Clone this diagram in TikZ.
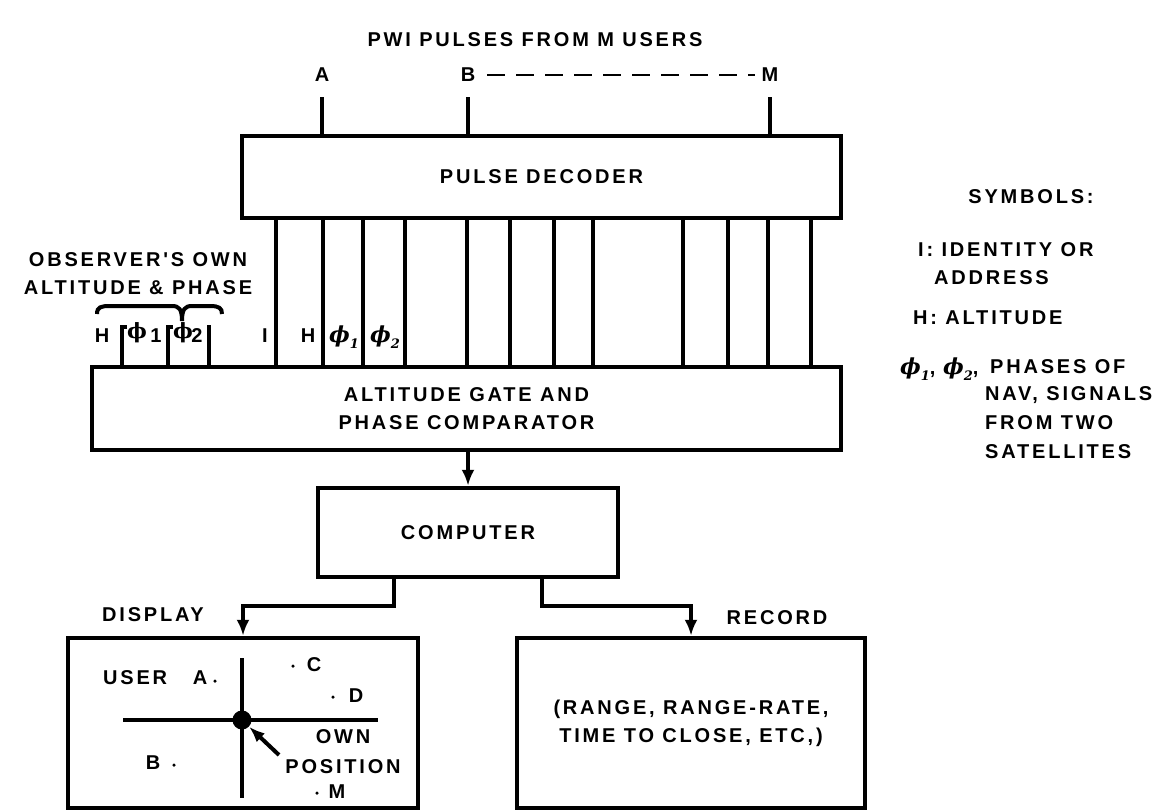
\documentclass[tikz,border=0pt]{standalone}
\usepackage{fontspec}
\usetikzlibrary{arrows.meta}
\newfontfamily\lblfont{Liberation Sans}[LetterSpace=14]
\newfontfamily\phifont{DejaVu Serif}
\newcommand\phisub[1]{{\phifont\bfseries\itshape\fontsize{22}{24}\selectfont ϕ}\raisebox{-6pt}{\phifont\bfseries\itshape\fontsize{13}{14}\selectfont #1}}
\newcommand\phibig{{\phifont\bfseries\fontsize{21}{24}\selectfont ϕ}}
\newcommand\lblcomma{{\lblfont\bfseries\fontsize{20}{24}\selectfont ,}}
\tikzset{
  txt/.style={font=\lblfont\bfseries\fontsize{20}{28}\selectfont, inner sep=0pt, align=center},
  box/.style={draw, line width=4.5pt, rectangle, inner sep=0pt, align=center,
              font=\lblfont\bfseries\fontsize{20}{28}\selectfont},
  conn/.style={line width=3.5pt},
  arr/.style={line width=3.5pt, -{Latex[length=16pt,width=13pt]}},
  phi/.style={inner sep=0pt},
  dashline/.style={line width=2.2pt, dash pattern=on 18pt off 11pt, shorten <=12pt, shorten >=6pt},
  heavy/.style={line width=4pt},
  spot/.style={fill, circle, inner sep=0pt, minimum size=3.5pt}
}
\begin{document}
\begin{tikzpicture}[x=1pt,y=-1pt]
\useasboundingbox (0,0) rectangle (1175,811);

% title and inputs
\node[txt] (title) at (535,40) {PWI PULSES FROM M USERS};
\node[txt] (lA) at (322,75) {A};
\node[txt] (lB) at (468,75) {B};
\node[txt] (lM) at (770,75) {M};
\draw[dashline] (lB) -- (lM);

\node[box, minimum width=599pt, minimum height=82pt] (pd) at (541.5,177) {PULSE DECODER};
\foreach \n in {lA,lB,lM} \draw[conn] ([yshift=-15pt]\n.south) -- (\n |- pd.north);

% altitude gate
\node[box, minimum width=749pt, minimum height=83pt] (ag) at (466.5,408.5) {ALTITUDE GATE AND\\PHASE COMPARATOR};

\foreach \x [count=\i] in {276,323,363,405,467,510,554,593,683,728,768,811} {
  \coordinate (v\i) at (\x,0);
  \draw[conn] (v\i |- pd.south) -- (v\i |- ag.north);
}

% labels between the boxes
\node[txt] (iI) at (265,336) {I};
\node[txt] (iH) at (308,336) {H};
\node[phi] (iP1) at (344,337) {\phisub{1}};
\node[phi] (iP2) at (385,337) {\phisub{2}};

% observer's own
\node[txt] (obs) at (138,274) {OBSERVER'S OWN\\ALTITUDE \& PHASE};
\node[txt] (oH) at (102,336) {H};
\node[phi] (oP1) at (137,333) {\phibig};
\node[txt] (o1) at (156,336) {1};
\node[phi] (oP2) at (183,333) {\phibig};
\node[txt] (o2) at (197,336) {2};
\coordinate (k1) at (122,327);
\coordinate (k2) at (168,327);
\coordinate (k3) at (209,325);
\draw[conn] (k1 |- ag.north) -- (k1) -- (oP1.west |- k1);
\draw[conn] (k2 |- ag.north) -- (k2) -- (oP2.west |- k2);
\draw[conn] (k3 |- ag.north) -- (k3);
\draw[heavy] (97,314) .. controls (97,307) and (101,306) .. (110,306) -- (172,306)
   .. controls (179,306) and (182,309) .. (182,321);
\draw[heavy] (182,321) .. controls (182,309) and (185,306) .. (192,306) -- (210,306)
   .. controls (219,306) and (222,308) .. (222,314);

% computer
\node[box, minimum width=300pt, minimum height=89pt] (comp) at (468,532.5) {COMPUTER};
\draw[arr] (ag.south -| comp.north) -- (comp.north);

% display and record
\node[box, minimum width=350pt, minimum height=170pt] (disp) at (243,723) {};
\node[box, minimum width=348pt, minimum height=170pt] (rec) at (691,723) {(RANGE, RANGE-RATE,\\TIME TO CLOSE, ETC,)};
\coordinate (bl) at (394,606);
\coordinate (br) at (542,606);
\draw[arr] (bl |- comp.south) -- (bl) -| (disp.north);
\draw[arr] (br |- comp.south) -- (br) -| (rec.north);
\node[txt] (dl) at (153,615) {DISPLAY};
\node[txt] (rl) at (777,618) {RECORD};

% display contents
\draw[heavy] (242,658) -- (242,798);
\draw[heavy] (123,720) -- (378,720);
\node[circle, fill, inner sep=0pt, minimum size=19pt] (ctr) at (242,720) {};
\coordinate (ptr) at (279,755);
\draw[heavy, -{Latex[length=16pt,width=12pt]}] (ptr) -- (ctr);
\node[txt, anchor=west] (uu) at (103,678) {USER};
\node[txt] (ua) at (200,678) {A};
\node[spot] (da) at (215,681) {};
\node[spot] (dc) at (293,666) {};
\node[txt] (uc) at (314,665) {C};
\node[spot] (dd) at (333,697) {};
\node[txt] (ud) at (356,696) {D};
\node[txt] (own) at (343,737) {OWN};
\node[txt] (pos) at (343,767) {POSITION};
\node[spot] (dm) at (317,793) {};
\node[txt] (um) at (337,792) {M};
\node[txt] (ub) at (153,763) {B};
\node[spot] (db) at (174,765) {};

% symbols legend
\node[txt] (sym) at (1031,197) {SYMBOLS:};
\node[txt, anchor=west] (s1) at (918,250) {I: IDENTITY OR};
\node[txt, anchor=west] (s2) at (934,278) {ADDRESS};
\node[txt, anchor=west] (s3) at (913,318) {H: ALTITUDE};
\node[phi, anchor=west] (s4) at (900,369) {\phisub{1}\lblcomma};
\node[phi, anchor=west] (s5) at (943,369) {\phisub{2}\lblcomma};
\node[txt, anchor=west] (s6) at (990,367) {PHASES OF};
\node[txt, anchor=west] (s7) at (985,395) {NAV, SIGNALS};
\node[txt, anchor=west] (s8) at (985,423) {FROM TWO};
\node[txt, anchor=west] (s9) at (985,452) {SATELLITES};
\end{tikzpicture}
\end{document}
